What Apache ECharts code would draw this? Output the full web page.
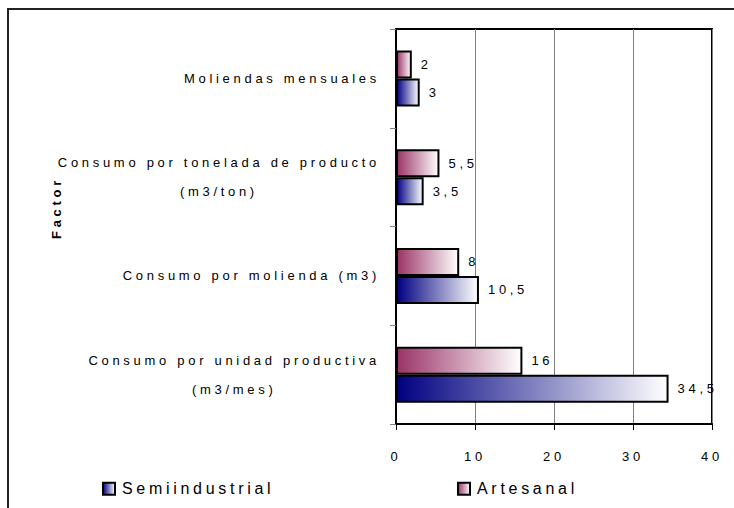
<!DOCTYPE html>
<html>
<head>
<meta charset="utf-8">
<script src="https://cdn.jsdelivr.net/npm/echarts@6/dist/echarts.min.js"></script>
<style>
  html, body { margin: 0; padding: 0; background: #fff; }
  #chart { width: 734px; height: 508px; }
  /* wide tracking on every label */
  #chart svg text { letter-spacing: 3.7px; }
</style>
</head>
<body>
<div id="chart"></div>
<script>
// Categories, bottom to top
const categories = [
  'Consumo por unidad productiva\n(m3/mes)',
  'Consumo por molienda (m3)',
  'Consumo por tonelada de producto\n(m3/ton)',
  'Moliendas mensuales'
];
const seriesNames = ['Semiindustrial', 'Artesanal'];
const semiindustrial = [34.5, 10.5, 3.5, 3];
const artesanal = [16, 8, 5.5, 2];
const xTicks = [0, 10, 20, 30, 40];
const axisTitle = 'Factor';

const LETTER_SPACING = 3.7;
const FONT = "'Liberation Sans', Arial, sans-serif";

// Text measurement that accounts for the letter spacing applied in CSS
const measureCtx = document.createElement('canvas').getContext('2d');
echarts.setPlatformAPI({
  measureText(text, font) {
    measureCtx.font = font || '12px sans-serif';
    const m = measureCtx.measureText(text);
    return {
      width: m.width + LETTER_SPACING * String(text).length,
      actualBoundingBoxAscent: m.actualBoundingBoxAscent,
      actualBoundingBoxDescent: m.actualBoundingBoxDescent,
      actualBoundingBoxLeft: m.actualBoundingBoxLeft,
      actualBoundingBoxRight: m.actualBoundingBoxRight
    };
  }
});

function fade(from) {
  return new echarts.graphic.LinearGradient(0, 0, 1, 0, [
    { offset: 0, color: from },
    { offset: 1, color: '#ffffff' }
  ]);
}

const commaNum = v => String(v).replace('.', ',');

const chart = echarts.init(document.getElementById('chart'), null, { renderer: 'svg' });

const makeSeries = (name, values, color) => ({
  name: name,
  type: 'bar',
  data: values,
  barWidth: 28,
  barGap: '0%',
  itemStyle: { color: fade(color), borderColor: '#000', borderWidth: 2 },
  label: {
    show: true,
    position: 'right',
    distance: 9,
    color: '#000',
    fontFamily: FONT,
    fontSize: 13,
    formatter: p => commaNum(p.value)
  }
});

const legendText = { fontFamily: FONT, fontSize: 16, color: '#000', padding: [0, 0, 0, 2] };

chart.setOption({
  animation: false,
  textStyle: { fontFamily: FONT },
  grid: {
    left: 396, right: 22, top: 29, bottom: 84,
    show: true, borderColor: '#000', borderWidth: 2, backgroundColor: 'transparent'
  },
  legend: [
    {
      data: [seriesNames[0]], left: 97, top: 474, icon: 'rect',
      itemWidth: 12, itemHeight: 12, textStyle: legendText
    },
    {
      data: [seriesNames[1]], left: 452, top: 474, icon: 'rect',
      itemWidth: 12, itemHeight: 12, textStyle: legendText
    }
  ],
  xAxis: {
    type: 'value',
    min: xTicks[0],
    max: xTicks[xTicks.length - 1],
    interval: xTicks[1] - xTicks[0],
    axisLine: { show: true, lineStyle: { color: '#000', width: 2 } },
    axisTick: { show: true, length: 6, lineStyle: { color: '#000' } },
    splitLine: { show: true, lineStyle: { color: '#808080', width: 1 } },
    axisLabel: { color: '#000', fontSize: 13, fontFamily: FONT, margin: 24 }
  },
  yAxis: {
    type: 'category',
    data: categories,
    axisLine: { show: true, lineStyle: { color: '#000', width: 2 } },
    axisTick: { show: true, length: 6, lineStyle: { color: '#808080' } },
    splitLine: { show: false },
    axisLabel: {
      interval: 0,
      margin: 16,
      color: '#000',
      fontSize: 13,
      fontFamily: FONT,
      formatter: v => v.split('\n').map(s => '{c|' + s + '}').join('\n'),
      rich: {
        c: { align: 'center', lineHeight: 29, fontSize: 13, fontFamily: FONT, color: '#000' }
      }
    }
  },
  graphic: [
    {
      type: 'polyline',
      silent: true,
      shape: { points: [[8, 520], [8, 9], [740, 9]] },
      style: { stroke: '#222', lineWidth: 2, fill: null }
    },
    {
      type: 'text',
      x: 56, y: 208,
      rotation: Math.PI / 2,
      style: {
        text: axisTitle,
        font: "bold 13px 'Liberation Sans', Arial, sans-serif",
        fill: '#000',
        align: 'center',
        verticalAlign: 'middle'
      }
    }
  ],
  // Artesanal listed first so it sits above Semiindustrial in each band
  series: [
    makeSeries(seriesNames[1], artesanal, '#993366'),
    makeSeries(seriesNames[0], semiindustrial, '#000080')
  ]
});
</script>
</body>
</html>
